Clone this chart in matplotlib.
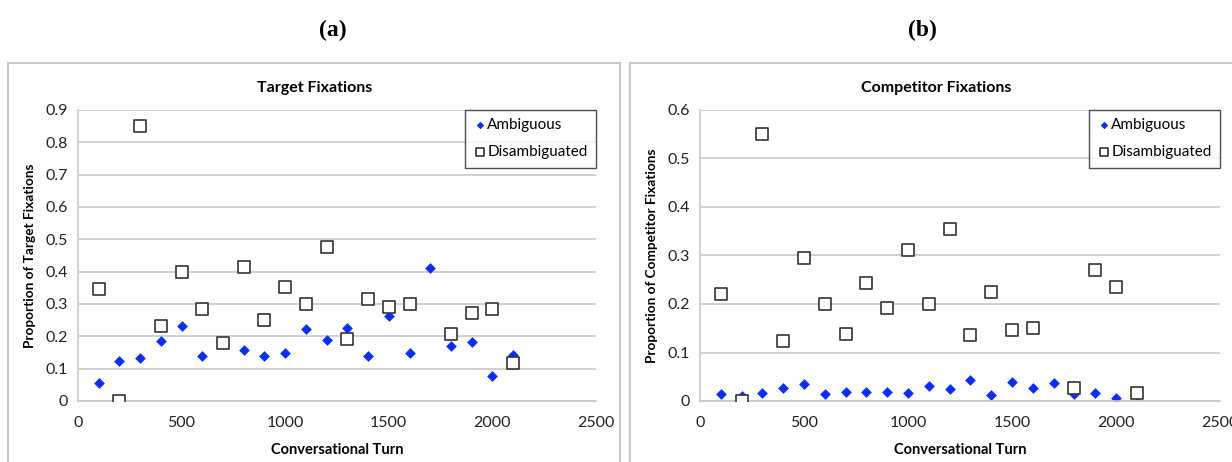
import matplotlib.pyplot as plt
import matplotlib.patches as patches
from matplotlib.ticker import FormatStrFormatter, MultipleLocator

plt.rcParams['font.family'] = ['Lato', 'DejaVu Sans']

W, H = 1232, 462

turns = [100, 200, 300, 400, 500, 600, 700, 800, 900, 1000, 1100,
         1200, 1300, 1400, 1500, 1600, 1700, 1800, 1900, 2000, 2100]
# Disambiguated has no point at turn 1700
turns_dis = [t for t in turns if t != 1700]

target_amb = [0.057, 0.124, 0.133, 0.185, 0.233, 0.139, 0.175, 0.157, 0.138, 0.150, 0.224,
              0.190, 0.227, 0.139, 0.263, 0.150, 0.412, 0.170, 0.181, 0.076, 0.141]
target_dis = [0.345, 0.0, 0.851, 0.231, 0.400, 0.286, 0.180, 0.413, 0.250, 0.353, 0.300,
              0.477, 0.193, 0.317, 0.291, 0.300, 0.206, 0.271, 0.283, 0.119]

comp_amb = [0.014, 0.010, 0.017, 0.026, 0.036, 0.015, 0.019, 0.019, 0.019, 0.017, 0.030,
            0.024, 0.043, 0.013, 0.039, 0.026, 0.037, 0.015, 0.017, 0.006, 0.012]
comp_dis = [0.220, 0.0, 0.550, 0.123, 0.294, 0.200, 0.138, 0.244, 0.191, 0.312, 0.200,
            0.354, 0.136, 0.224, 0.146, 0.151, 0.026, 0.271, 0.235, 0.016]

panels = [
    dict(tag='(a)', title='Target Fixations', ylabel='Proportion of Target Fixations',
         amb=target_amb, dis=target_dis, ymax=0.9, box=(8, 620), ax=(78, 596),
         tagx=333, titlex=315),
    dict(tag='(b)', title='Competitor Fixations', ylabel='Proportion of Competitor Fixations',
         amb=comp_amb, dis=comp_dis, ymax=0.6, box=(630, 1240), ax=(700, 1220),
         tagx=922, titlex=936),
]

fig = plt.figure(figsize=(W / 100, H / 100), dpi=100)

for p in panels:
    bx0, bx1 = p['box']
    # chart frame, runs off the bottom of the image
    fig.patches.append(patches.Rectangle((bx0 / W, -0.05), (bx1 - bx0) / W, (H - 63) / H + 0.05,
                                         transform=fig.transFigure, fill=False,
                                         edgecolor='#c8c8c8', linewidth=1.5))
    fig.text(p['tagx'] / W, 1 - 30 / H, p['tag'], family='Liberation Serif', fontweight='bold',
             fontsize=17, ha='center', va='center')
    fig.text(p['titlex'] / W, 1 - 88 / H, p['title'],
             fontweight='bold', fontsize=11.5, ha='center', va='center')

    x0, x1 = p['ax']
    ax = fig.add_axes([x0 / W, (H - 401) / H, (x1 - x0) / W, (401 - 110) / H])
    ax.scatter(turns_dis, p['dis'], marker='s', s=85, facecolor='white', edgecolor='#333333',
               linewidth=1.2, zorder=3, label='Disambiguated')
    ax.scatter(turns, p['amb'], marker='D', s=30, color='#0a2cff', linewidth=0, zorder=2,
               label='Ambiguous')

    ax.set_xlim(0, 2500)
    ax.set_ylim(0, p['ymax'])
    ax.xaxis.set_major_locator(MultipleLocator(500))
    ax.yaxis.set_major_locator(MultipleLocator(0.1))
    ax.yaxis.set_major_formatter(FormatStrFormatter('%g'))
    ax.grid(axis='y', color='#c8c8c8', linewidth=1.2)
    ax.set_axisbelow(True)
    for s in ['top', 'right']:
        ax.spines[s].set_visible(False)
    for s in ['left', 'bottom']:
        ax.spines[s].set_color('#c8c8c8')
        ax.spines[s].set_linewidth(1.2)
    ax.tick_params(axis='y', length=0, labelsize=11.5, colors='#222222', pad=7)
    ax.tick_params(axis='x', length=0, labelsize=11.5, colors='#222222', pad=11)
    ax.set_xlabel('Conversational Turn', fontweight='bold', fontsize=10.5, labelpad=9)
    ax.set_ylabel(p['ylabel'], fontweight='bold', fontsize=9.8, labelpad=7)

    handles, labels = ax.get_legend_handles_labels()
    leg = ax.legend(handles[::-1], labels[::-1], loc='upper right', borderaxespad=0,
                    fancybox=False, edgecolor='#222222', fontsize=11, handletextpad=0.1,
                    handlelength=0.8, borderpad=0.55, labelspacing=0.85, markerscale=0.7)
    leg.get_frame().set_linewidth(1.0)

fig.savefig('out.png', dpi=100)
